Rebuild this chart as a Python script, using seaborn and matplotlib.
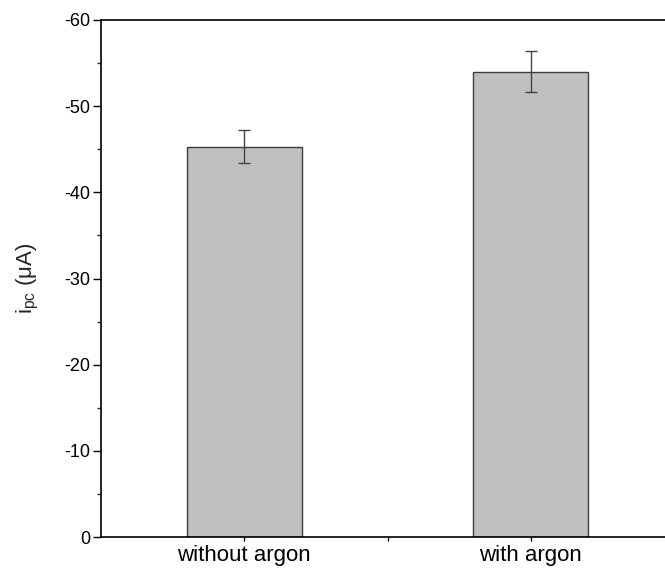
import matplotlib
matplotlib.use("Agg")
import matplotlib.pyplot as plt
from matplotlib.ticker import MultipleLocator
import seaborn as sns
import pandas as pd

categories = ["without argon", "with argon"]
ipc_values = [-45.3, -54.0]
ipc_errors = [1.95, 2.4]

sns.set_theme(style="ticks")
plt.rcParams["font.family"] = ["Liberation Sans", "DejaVu Sans"]
plt.rcParams["mathtext.fontset"] = "custom"
plt.rcParams["mathtext.rm"] = "Liberation Sans"

df = pd.DataFrame({"condition": categories, "ipc": ipc_values})

fig = plt.figure(figsize=(6.65, 5.72), dpi=100)
# axes spans past the right edge of the canvas
ax = fig.add_axes([101 / 665, 35 / 572, 573 / 665, 517 / 572])

sns.barplot(data=df, x="condition", y="ipc", order=categories,
            color="#c0c0c0", saturation=1, width=0.4,
            edgecolor="#3c3c3c", linewidth=1.0, errorbar=None, ax=ax)

ax.errorbar(range(len(categories)), ipc_values, yerr=ipc_errors, fmt="none",
            ecolor="#444444", elinewidth=1.0, capsize=4.5, capthick=1.0, zorder=5)

ax.set_xlim(-0.5, 1.5)
ax.set_ylim(0, -60)
ax.yaxis.set_major_locator(MultipleLocator(10))
ax.yaxis.set_minor_locator(MultipleLocator(5))
ax.set_xticks([0.5, 1.5], minor=True)
ax.tick_params(axis="y", which="major", direction="out", length=6, width=1,
               labelsize=13, pad=1.5, colors="black")
ax.tick_params(axis="y", which="minor", direction="out", length=3, width=1)
ax.tick_params(axis="x", which="both", direction="out", length=3, width=1,
               labelsize=16, pad=3, colors="black")
ax.set_yticklabels([f"{int(t)}" if t != 0 else "0" for t in ax.get_yticks()])

ax.set_xlabel("")
ax.set_ylabel(r"i$_{\mathregular{pc}}$ ($\mathregular{\mu}$A)", fontsize=16, labelpad=17)

for side in ["left", "bottom", "top", "right"]:
    ax.spines[side].set_visible(True)
    ax.spines[side].set_color("black")
    ax.spines[side].set_linewidth(1.2)

fig.savefig("out.png", dpi=100)
